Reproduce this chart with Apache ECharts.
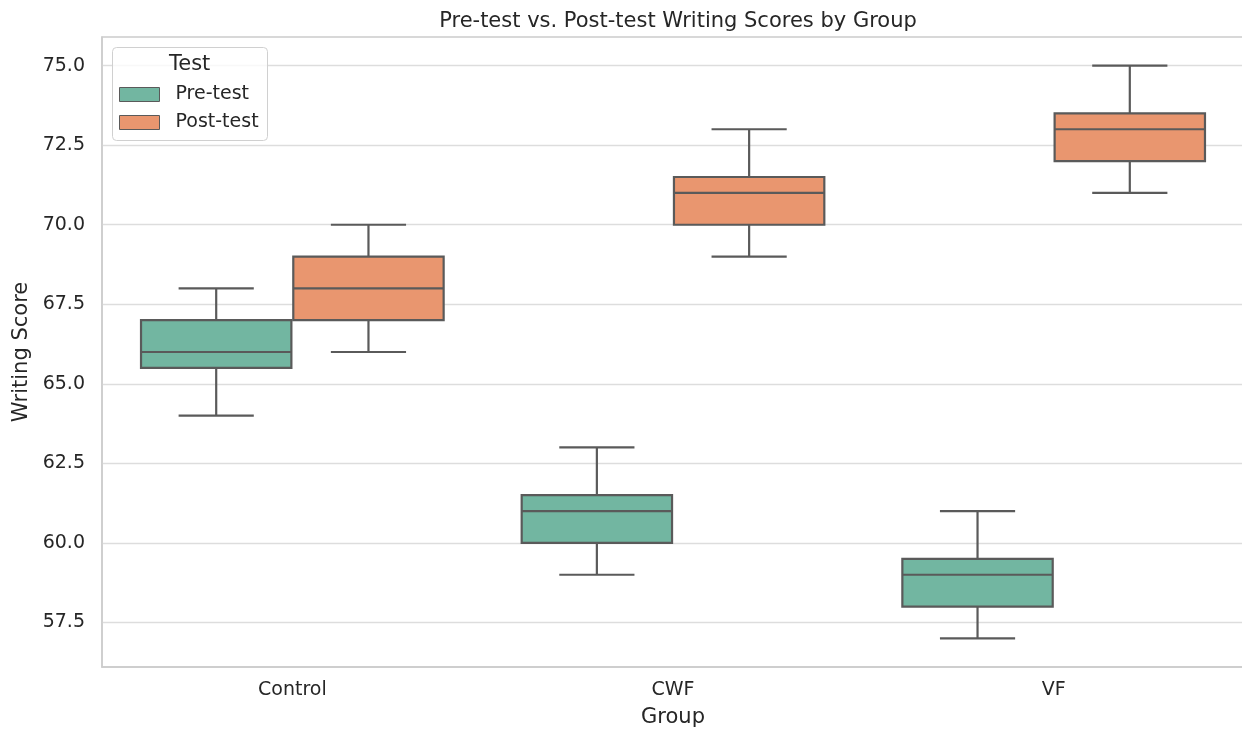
<!DOCTYPE html>
<html><head><meta charset="utf-8">
<script src="https://cdn.jsdelivr.net/npm/echarts@6/dist/echarts.min.js"></script>
<style>html,body{margin:0;padding:0;background:#fff}#c{width:1242px;height:729px}</style>
</head><body><div id="c"></div>
<script>
const categories = ['Control', 'CWF', 'VF'];
const seriesNames = ['Pre-test', 'Post-test'];
const preMin = [64, 59, 57];
const preQ1 = [65.5, 60, 58];
const preMed = [66, 61, 59];
const preQ3 = [67, 61.5, 59.5];
const preMax = [68, 63, 61];
const postMin = [66, 69, 71];
const postQ1 = [67, 70, 72];
const postMed = [68, 71, 73];
const postQ3 = [69, 71.5, 73.5];
const postMax = [70, 73, 75];
const yTicks = [57.5, 60, 62.5, 65, 67.5, 70, 72.5, 75];

const colors = ['#72b6a1', '#e9966f'];
const edge = '#5a5a5a';
const FONT = 'DejaVu Sans';

function rows(mn, q1, md, q3, mx) {
  return categories.map((c, i) => [i, mn[i], q1[i], md[i], q3[i], mx[i]]);
}

function makeRender(offsetFrac) {
  return function (params, api) {
    const idx = api.value(0);
    const band = api.size([1, 0])[0];
    const cx = api.coord([idx, 0])[0] + offsetFrac * band;
    const half = band * 0.395 / 2;
    const cap = half / 2;
    const y = k => api.coord([idx, api.value(k)])[1];
    const yMin = y(1), yQ1 = y(2), yMed = y(3), yQ3 = y(4), yMax = y(5);
    const ls = { stroke: edge, lineWidth: 2.2 };
    return {
      type: 'group',
      children: [
        { type: 'line', shape: { x1: cx, y1: yQ1, x2: cx, y2: yMin }, style: ls },
        { type: 'line', shape: { x1: cx, y1: yQ3, x2: cx, y2: yMax }, style: ls },
        { type: 'line', shape: { x1: cx - cap, y1: yMin, x2: cx + cap, y2: yMin }, style: ls },
        { type: 'line', shape: { x1: cx - cap, y1: yMax, x2: cx + cap, y2: yMax }, style: ls },
        { type: 'rect', shape: { x: cx - half, y: yQ3, width: 2 * half, height: yQ1 - yQ3 },
          style: { fill: api.visual('color'), stroke: edge, lineWidth: 2.2 } },
        { type: 'line', shape: { x1: cx - half, y1: yMed, x2: cx + half, y2: yMed }, style: ls }
      ]
    };
  };
}

const chart = echarts.init(document.getElementById('c'), null, { renderer: 'canvas' });
chart.setOption({
  animation: false,
  textStyle: { fontFamily: FONT, color: '#262626' },
  title: {
    text: 'Pre-test vs. Post-test Writing Scores by Group',
    left: 673, top: 6, textAlign: 'center',
    textStyle: { fontFamily: FONT, fontSize: 21, fontWeight: 'normal', color: '#262626' }
  },
  grid: { left: 102, top: 37, width: 1142, height: 630, show: true, borderColor: '#cccccc', borderWidth: 1.5,
    containLabel: false, outerBoundsMode: 'none' },
  xAxis: {
    type: 'category', data: categories,
    name: 'Group', nameLocation: 'middle', nameGap: 40,
    nameTextStyle: { fontFamily: FONT, fontSize: 21, color: '#262626' },
    axisLine: { show: true, lineStyle: { color: '#cccccc', width: 1.5 } },
    axisTick: { show: false },
    axisLabel: { fontFamily: FONT, fontSize: 19, color: '#262626', margin: 14 },
    splitLine: { show: false }
  },
  yAxis: {
    type: 'value', min: 56.1, max: 75.9,
    name: 'Writing Score', nameLocation: 'middle', nameGap: 69, nameRotate: 90,
    nameTextStyle: { fontFamily: FONT, fontSize: 21, color: '#262626' },
    axisLine: { show: true, lineStyle: { color: '#cccccc', width: 1.5 } },
    axisTick: { show: false, customValues: yTicks },
    axisLabel: { fontFamily: FONT, fontSize: 19, color: '#262626', margin: 17, customValues: yTicks,
      formatter: v => Number(v).toFixed(1) },
    splitLine: { show: true, lineStyle: { color: '#dddddd', width: 1.3 } }
  },
  legend: {
    orient: 'vertical', left: 119, top: 85, padding: 0, itemWidth: 40, itemHeight: 14, itemGap: 9, z: 10,
    textStyle: { fontFamily: FONT, fontSize: 19, color: '#262626', padding: [0, 0, 0, 11] },
    data: seriesNames.map((n, i) => ({ name: n, icon: 'rect',
      itemStyle: { color: colors[i], borderColor: edge, borderWidth: 1 } }))
  },
  graphic: [
    { type: 'rect', left: 112, top: 47, z: 1, zlevel: 0,
      shape: { width: 155, height: 93, r: 4 },
      style: { fill: 'rgba(255,255,255,0.8)', stroke: '#d0d0d0', lineWidth: 1 } },
    { type: 'text', left: 169, top: 54, z: 6,
      style: { text: 'Test', font: '21px "DejaVu Sans"', fill: '#262626' } }
  ],
  series: [
    { name: seriesNames[0], type: 'custom', renderItem: makeRender(-0.2),
      itemStyle: { color: colors[0] }, encode: { x: 0, y: [1, 2, 3, 4, 5] },
      data: rows(preMin, preQ1, preMed, preQ3, preMax) },
    { name: seriesNames[1], type: 'custom', renderItem: makeRender(0.2),
      itemStyle: { color: colors[1] }, encode: { x: 0, y: [1, 2, 3, 4, 5] },
      data: rows(postMin, postQ1, postMed, postQ3, postMax) }
  ]
});
</script></body></html>
